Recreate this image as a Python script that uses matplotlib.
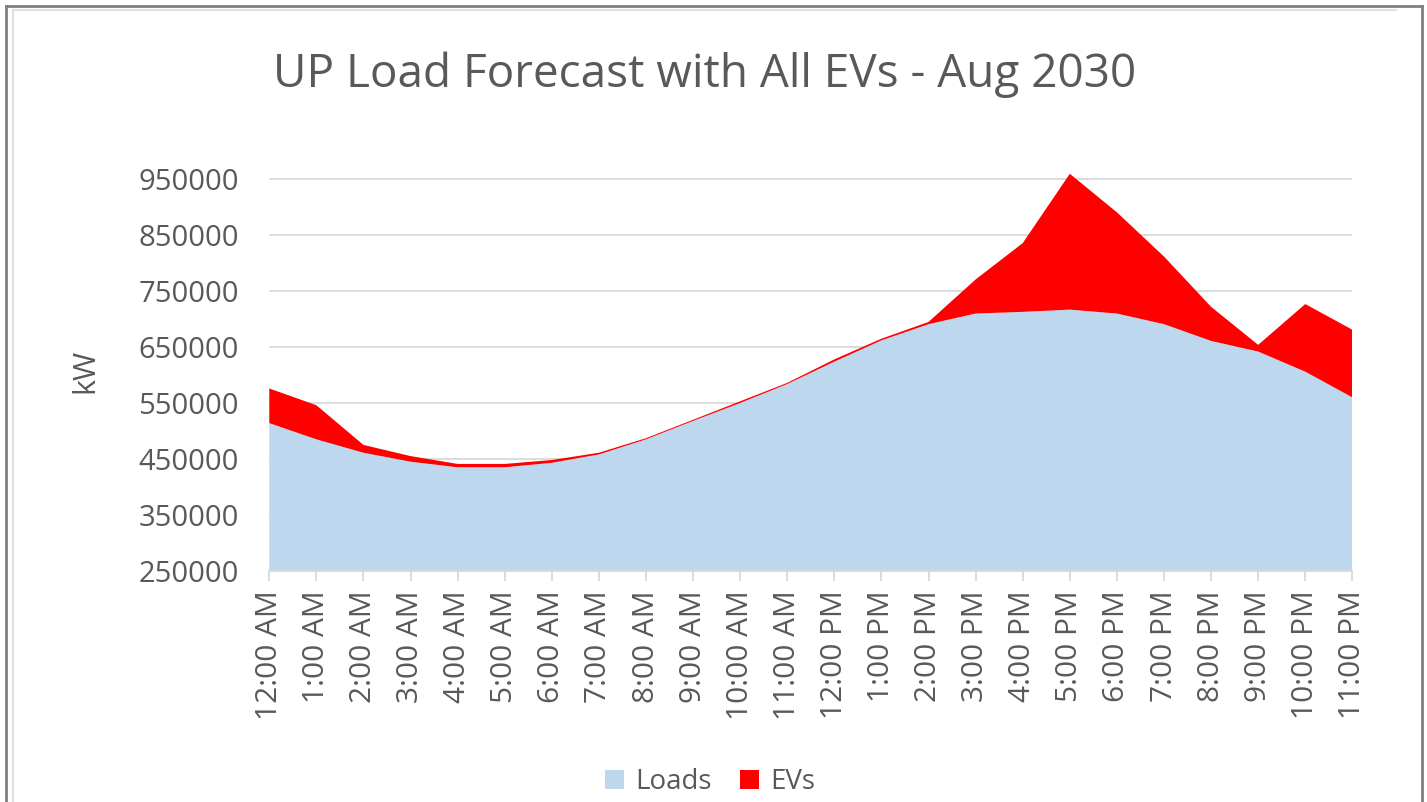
import numpy as np
import matplotlib
matplotlib.use("Agg")
from matplotlib import pyplot as plt
from matplotlib.lines import Line2D

hours = ["12:00 AM", "1:00 AM", "2:00 AM", "3:00 AM", "4:00 AM", "5:00 AM",
         "6:00 AM", "7:00 AM", "8:00 AM", "9:00 AM", "10:00 AM", "11:00 AM",
         "12:00 PM", "1:00 PM", "2:00 PM", "3:00 PM", "4:00 PM", "5:00 PM",
         "6:00 PM", "7:00 PM", "8:00 PM", "9:00 PM", "10:00 PM", "11:00 PM"]

# kW
loads = [514000, 485000, 461000, 445000, 435000, 435000, 443000, 458000,
         485000, 518000, 550000, 584000, 624000, 662000, 691000, 710000,
         713000, 717000, 710000, 691000, 661000, 642000, 606000, 560000]
evs = [62000, 61000, 14000, 10000, 6000, 6000, 5000, 3000,
       2000, 2000, 3000, 2000, 4000, 3000, 4000, 61000,
       123000, 243000, 181000, 121000, 61000, 12000, 121000, 121000]

y_ticks = [250000, 350000, 450000, 550000, 650000, 750000, 850000, 950000]

txt = "#595959"
grid_c = "#D9D9D9"
plt.rcParams["font.family"] = ["Open Sans", "DejaVu Sans"]

fig = plt.figure(figsize=(14.27, 8.02), dpi=100)
ax = fig.add_axes([0.1887, 0.2884, 0.759, 0.4984])

x = np.arange(len(hours))
ax.stackplot(x, loads, evs, colors=["#BDD7EE", "#FF0000"],
             labels=["Loads", "EVs"], linewidth=0)

ax.set_xlim(0, len(hours) - 1)
ax.set_ylim(250000, 965000)
ax.set_yticks(y_ticks)
ax.set_yticklabels([str(v) for v in y_ticks])
ax.set_xticks(x)
ax.set_xticklabels(hours, rotation=90)

for v in y_ticks[1:]:
    ax.axhline(v, color=grid_c, lw=1.3, zorder=0)
ax.set_axisbelow(True)

for s in ["top", "right", "left"]:
    ax.spines[s].set_visible(False)
ax.spines["bottom"].set_color(grid_c)
ax.spines["bottom"].set_linewidth(1.3)
ax.spines["bottom"].set_zorder(5)

ax.tick_params(axis="y", length=0, pad=22, labelsize=21, labelcolor=txt)
ax.tick_params(axis="x", length=7, width=1.3, color=grid_c, pad=7,
               labelsize=21.5, labelcolor=txt)

ax.set_ylabel("kW", fontsize=22, color=txt)
ax.yaxis.set_label_coords(-0.156, 0.5)

fig.text(0.494, 0.907, "UP Load Forecast with All EVs - Aug 2030",
         ha="center", va="center", fontsize=33, color=txt)

leg = fig.legend(loc="center", bbox_to_anchor=(0.4975, 0.025), ncol=2,
                 frameon=False, fontsize=20, handlelength=0.7,
                 handleheight=0.7, columnspacing=1.0, handletextpad=0.4)
for t in leg.get_texts():
    t.set_color(txt)

# chart frame
fig.add_artist(Line2D([6 / 1427, 6 / 1427], [0, 1 - 6 / 802],
                      transform=fig.transFigure, color="#808080", lw=2))
fig.add_artist(Line2D([6 / 1427, 1422 / 1427], [1 - 6 / 802, 1 - 6 / 802],
                      transform=fig.transFigure, color="#808080", lw=2))
fig.add_artist(Line2D([1422 / 1427, 1422 / 1427], [0, 1 - 6 / 802],
                      transform=fig.transFigure, color="#808080", lw=2))
fig.add_artist(Line2D([13 / 1427, 13 / 1427], [0, 1 - 10 / 802],
                      transform=fig.transFigure, color="#E0E0E0", lw=1.5))
fig.add_artist(Line2D([13 / 1427, 1396 / 1427], [1 - 10 / 802, 1 - 10 / 802],
                      transform=fig.transFigure, color="#E0E0E0", lw=1.5))

fig.savefig("out.png", dpi=100)
